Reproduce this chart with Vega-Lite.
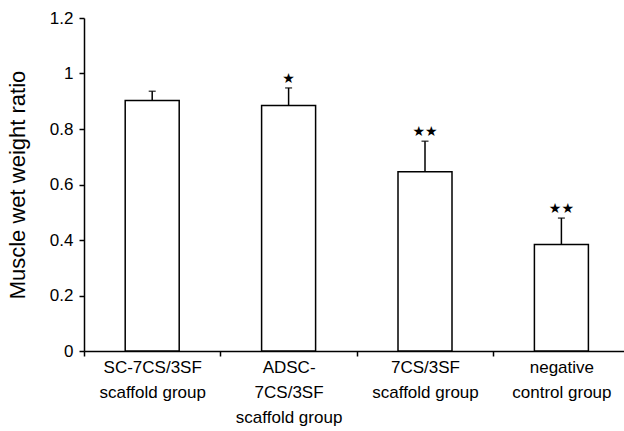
{
  "$schema": "https://vega.github.io/schema/vega-lite/v6.json",
  "width": 540,
  "height": 333,
  "autosize": {"type": "none"},
  "padding": {"left": 84, "top": 18, "right": 0, "bottom": 80},
  "config": {
    "font": "Liberation Sans",
    "view": {"stroke": null},
    "axis": {"domainColor": "black", "tickColor": "black", "labelColor": "black", "titleColor": "black", "grid": false}
  },
  "data": {
    "values": [
      {"group": "SC-7CS/3SF|scaffold group", "ratio": 0.903, "upper": 0.936, "sig": ""},
      {"group": "ADSC-|7CS/3SF|scaffold group", "ratio": 0.885, "upper": 0.948, "sig": "★"},
      {"group": "7CS/3SF|scaffold group", "ratio": 0.646, "upper": 0.756, "sig": "★★"},
      {"group": "negative|control group", "ratio": 0.384, "upper": 0.479, "sig": "★★"}
    ]
  },
  "encoding": {
    "x": {
      "field": "group",
      "type": "nominal",
      "sort": null,
      "scale": {"range": [0, 545.6], "paddingInner": 0, "paddingOuter": 0},
      "axis": {
        "title": null,
        "labelAngle": 0,
        "labelExpr": "split(datum.label, '|')",
        "labelFontSize": 17,
        "labelLineHeight": 25,
        "labelPadding": 3,
        "labelBaseline": "top",
        "tickBand": "extent",
        "tickSize": 5,
        "tickWidth": 1.5,
        "domainWidth": 1.5,
        "encode": {
          "ticks": {"update": {"y2": {"value": -5}}},
          "labels": {
            "update": {
              "dx": {"signal": "indexof(datum.value,'ADSC')==0 ? -9 : (indexof(datum.value,'7CS')==0 ? -14 : (indexof(datum.value,'negative')==0 ? -19 : 0))"}
            }
          }
        }
      }
    }
  },
  "layer": [
    {
      "mark": {"type": "bar", "width": 54, "fill": "white", "stroke": "black", "strokeWidth": 1.5},
      "encoding": {
        "y": {
          "field": "ratio",
          "type": "quantitative",
          "scale": {"domain": [0, 1.2], "nice": false},
          "axis": {
            "title": "Muscle wet weight ratio",
            "values": [0, 0.2, 0.4, 0.6, 0.8, 1, 1.2],
            "format": "~g",
            "tickSize": 5,
            "tickWidth": 1.5,
            "domainWidth": 1.5,
            "labelFontSize": 17,
            "labelPadding": 6,
            "titleFontSize": 22,
            "titleFontWeight": "normal",
            "titlePadding": 20,
            "encode": {
              "ticks": {"update": {"x2": {"value": 5}}}
            }
          }
        }
      }
    },
    {
      "mark": {"type": "rule", "color": "black", "strokeWidth": 1.5},
      "encoding": {
        "y": {"field": "ratio", "type": "quantitative"},
        "y2": {"field": "upper"}
      }
    },
    {
      "mark": {"type": "tick", "color": "black", "size": 7, "thickness": 1.5},
      "encoding": {
        "y": {"field": "upper", "type": "quantitative"}
      }
    },
    {
      "mark": {"type": "text", "font": "DejaVu Sans", "fontSize": 14, "dy": -9, "baseline": "middle", "color": "black"},
      "encoding": {
        "y": {"field": "upper", "type": "quantitative"},
        "text": {"field": "sig"}
      }
    }
  ]
}
